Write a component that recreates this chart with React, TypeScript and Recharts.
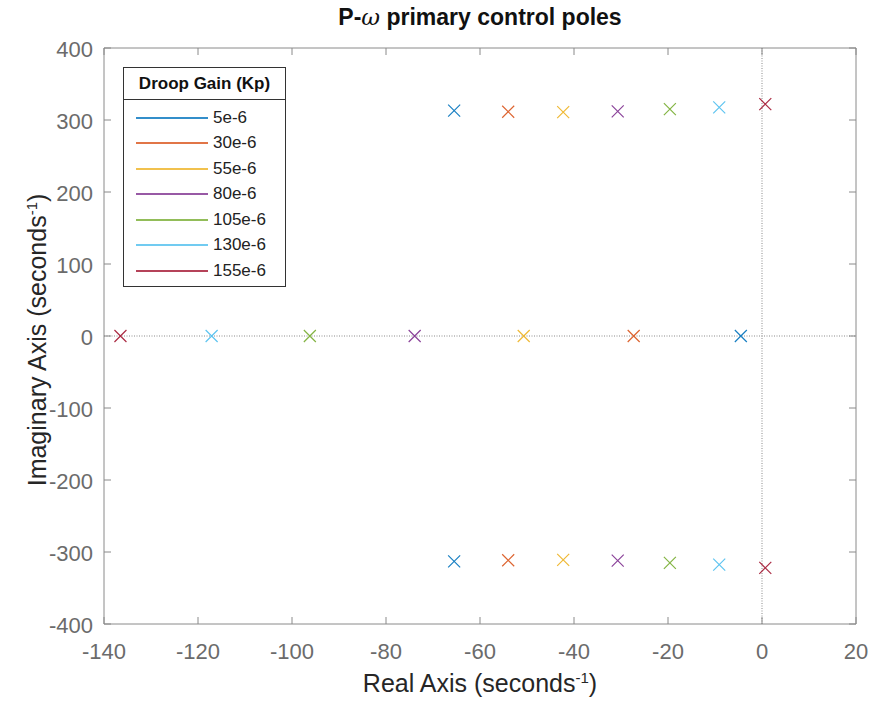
import React from 'react';
import { ScatterChart, Scatter, XAxis, YAxis, ReferenceLine } from 'recharts';

const kpLabels = ['5e-6', '30e-6', '55e-6', '80e-6', '105e-6', '130e-6', '155e-6'];
const COLORS = ['#0072BD', '#D95319', '#EDB120', '#7E2F8E', '#77AC30', '#4DBEEE', '#A2142F'];

// complex pair (re ± j im) and the real pole for each gain
const pairReal = [-65.5, -54.0, -42.3, -30.7, -19.6, -9.1, 0.7];
const pairImag = [313, 311.5, 311, 312, 315, 317.5, 322];
const realPole = [-4.5, -27.3, -50.7, -73.9, -96.2, -117.1, -136.5];

const xTicks = [-140, -120, -100, -80, -60, -40, -20, 0, 20];
const yTicks = [-400, -300, -200, -100, 0, 100, 200, 300, 400];

const FONT = '"Liberation Sans", Arial, sans-serif';
const AXIS = '#8a8a8a';
const TICKTXT = '#6b6b6b';
const TL = 7;

const series = kpLabels.map((name, i) => ({
  name,
  color: COLORS[i],
  data: [
    { x: pairReal[i], y: pairImag[i] },
    { x: pairReal[i], y: -pairImag[i] },
    { x: realPole[i], y: 0 },
  ],
}));

const cross = (color: string) => (props: any) => {
  const { cx, cy } = props;
  const s = 6;
  return (
    <path
      d={`M${cx - s},${cy - s}L${cx + s},${cy + s}M${cx - s},${cy + s}L${cx + s},${cy - s}`}
      stroke={color}
      strokeWidth={1.2}
      strokeOpacity={0.9}
      fill="none"
    />
  );
};

const BottomTick = (p: any) => (
  <g>
    <line x1={p.x} x2={p.x} y1={p.y} y2={p.y - TL} stroke={AXIS} />
    <text x={p.x} y={p.y + 35} textAnchor="middle" fontSize={22} fill={TICKTXT} fontFamily={FONT}>
      {p.payload.value}
    </text>
  </g>
);
const TopTick = (p: any) => <line x1={p.x} x2={p.x} y1={p.y} y2={p.y + TL} stroke={AXIS} />;
const LeftTick = (p: any) => (
  <g>
    <line x1={p.x} x2={p.x + TL} y1={p.y} y2={p.y} stroke={AXIS} />
    <text x={p.x - 11} y={p.y + 9} textAnchor="end" fontSize={22} fill={TICKTXT} fontFamily={FONT}>
      {p.payload.value}
    </text>
  </g>
);
const RightTick = (p: any) => <line x1={p.x} x2={p.x - TL} y1={p.y} y2={p.y} stroke={AXIS} />;

export default function App() {
  return (
    <div style={{ position: 'absolute', left: 0, top: 0, width: 873, height: 704, background: '#fff', fontFamily: FONT }}>
      <ScatterChart width={873} height={704} margin={{ top: 47, right: 16, bottom: 79, left: 103 }}>
        <XAxis xAxisId="b" type="number" dataKey="x" domain={[-140, 20]} ticks={xTicks} interval={0}
          height={1} tickSize={0} tickMargin={0} tickLine={false} axisLine={{ stroke: AXIS }} tick={<BottomTick />} allowDataOverflow />
        <XAxis xAxisId="t" orientation="top" type="number" dataKey="x" domain={[-140, 20]} ticks={xTicks} interval={0}
          height={1} tickSize={0} tickMargin={0} tickLine={false} axisLine={{ stroke: AXIS }} tick={<TopTick />} allowDataOverflow />
        <YAxis yAxisId="l" type="number" dataKey="y" domain={[-400, 400]} ticks={yTicks} interval={0}
          width={1} tickSize={0} tickMargin={0} tickLine={false} axisLine={{ stroke: AXIS }} tick={<LeftTick />} allowDataOverflow />
        <YAxis yAxisId="r" orientation="right" type="number" dataKey="y" domain={[-400, 400]} ticks={yTicks} interval={0}
          width={1} tickSize={0} tickMargin={0} tickLine={false} axisLine={{ stroke: AXIS }} tick={<RightTick />} allowDataOverflow />
        <ReferenceLine xAxisId="b" yAxisId="l" x={0} stroke="#8a8a8a" strokeDasharray="1 1.5" />
        <ReferenceLine xAxisId="b" yAxisId="l" y={0} stroke="#8a8a8a" strokeDasharray="1 1.5" />
        {series.map((s) => (
          <Scatter key={s.name} name={s.name} xAxisId="b" yAxisId="l" data={s.data}
            shape={cross(s.color)} isAnimationActive={false} />
        ))}
      </ScatterChart>

      <div style={{ position: 'absolute', left: 0, width: 960, top: 4, textAlign: 'center', fontSize: 23, fontWeight: 'bold', color: '#111' }}>
        P-<span style={{ fontFamily: '"DejaVu Serif", serif', fontStyle: 'italic', fontWeight: 'normal' }}>ω</span> primary control poles
      </div>
      <div style={{ position: 'absolute', left: 0, width: 960, top: 669, textAlign: 'center', fontSize: 25, color: '#262626' }}>
        Real Axis (seconds<sup style={{ fontSize: 15 }}>-1</sup>)
      </div>
      <div style={{ position: 'absolute', left: 37 - 200, top: 340 - 14, width: 400, height: 28, lineHeight: '28px', textAlign: 'center', fontSize: 25, color: '#262626', transform: 'rotate(-90deg)', whiteSpace: 'nowrap' }}>
        Imaginary Axis (seconds<sup style={{ fontSize: 15, lineHeight: 0 }}>-1</sup>)
      </div>

      <div style={{ position: 'absolute', left: 123, top: 67, width: 161, height: 218, border: '1px solid #333', background: '#fff' }}>
        <div style={{ height: 31, lineHeight: '31px', borderBottom: '1px solid #333', textAlign: 'center', fontWeight: 'bold', fontSize: 17, color: '#111' }}>
          Droop Gain (Kp)
        </div>
        <div style={{ paddingTop: 5 }}>
          {series.map((s) => (
            <div key={s.name} style={{ height: 25.5, display: 'flex', alignItems: 'center' }}>
              <div style={{ marginLeft: 12, width: 72, height: 2, background: s.color, opacity: 0.8 }} />
              <span style={{ marginLeft: 5, fontSize: 17, color: '#222' }}>{s.name}</span>
            </div>
          ))}
        </div>
      </div>
    </div>
  );
}
